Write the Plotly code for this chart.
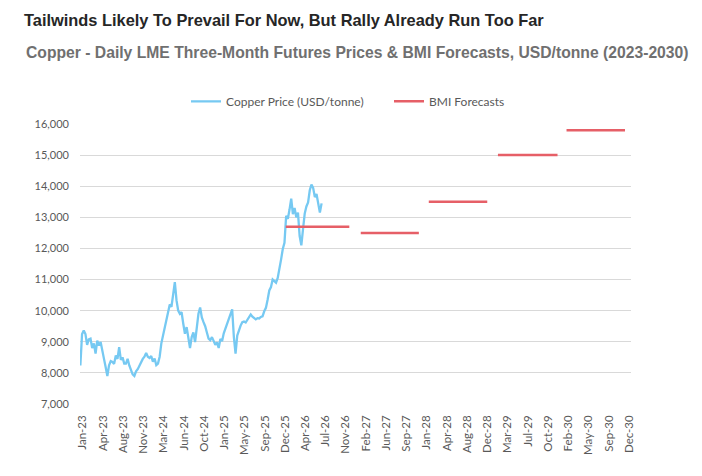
import pandas as pd
import plotly.graph_objects as go

# copper 3M price, one reading every 9 days (USD/tonne)
copper_start = "2022-12-22"
copper_price = [
    8240, 9250, 9360, 9250, 8900, 9080, 9100, 8800, 8950, 8620,
    9040, 8880, 8990, 8660, 8450, 8180, 7900, 8240, 8380, 8350,
    8290, 8560, 8450, 8830, 8420, 8500, 8300, 8300, 8450, 8240,
    8120, 7950, 7900, 8050, 8120, 8250, 8370, 8450, 8520, 8640,
    8520, 8480, 8540, 8360, 8460, 8250, 8300, 8520, 8950, 9250,
    9450, 9700, 9980, 10200, 10120, 10600, 10920, 10330, 10000, 9900,
    9950, 9580, 9260, 9470, 9100, 8800, 9150, 9300, 8990, 9450,
    9900, 10100, 9780, 9630, 9500, 9300, 9100, 9050, 9150, 9030,
    8900, 8980, 8800, 9090, 9020, 9270, 9420, 9560, 9720, 9850,
    10040, 9150, 8620, 9200, 9400, 9520, 9630, 9650, 9620, 9720,
    9800, 9880, 9810, 9750, 9720, 9760, 9750, 9800, 9820, 9980,
    10090, 10350, 10650, 10760, 11000, 10950, 10900, 11050, 11300, 11650,
    11980, 12180, 13050, 12950, 13250, 13600, 13100, 13300, 13000, 13150,
    12400, 12100, 12620, 13120, 13350, 13480, 13870, 14050, 13950, 13650,
    13750, 13480, 13150, 13450,
]
copper_dates = pd.date_range(copper_start, periods=len(copper_price), freq="9D")

# BMI annual forecasts
forecast_start = ["2025-12-22", "2027-01-26", "2028-01-24", "2029-01-27", "2030-01-28"]
forecast_end = ["2026-11-26", "2027-12-02", "2028-12-01", "2029-12-11", "2030-12-06"]
forecast_value = [12700, 12500, 13500, 15000, 15800]

tick_labels = [
    "Jan-23", "Apr-23", "Aug-23", "Nov-23", "Mar-24", "Jun-24", "Oct-24",
    "Jan-25", "May-25", "Sep-25", "Dec-25", "Apr-26", "Jul-26", "Nov-26",
    "Feb-27", "Jun-27", "Sep-27", "Jan-28", "Apr-28", "Aug-28", "Dec-28",
    "Mar-29", "Jul-29", "Oct-29", "Feb-30", "May-30", "Sep-30", "Dec-30",
]
tick_vals = pd.date_range("2023-01-03", periods=len(tick_labels), freq="108D")

fx, fy = [], []
for s, e, v in zip(forecast_start, forecast_end, forecast_value):
    fx += [s, e, None]
    fy += [v, v, None]

fig = go.Figure()
fig.add_trace(go.Scatter(
    x=copper_dates, y=copper_price, mode="lines",
    name="Copper Price (USD/tonne)",
    line=dict(color="#76C9F2", width=2.3),
))
fig.add_trace(go.Scatter(
    x=fx, y=fy, mode="lines", name="BMI Forecasts",
    line=dict(color="#E65F67", width=2.5),
    connectgaps=False,
))

grey = "#595959"
# the page body adds an 8px offset, so the margins are shifted by 8px
fig.update_layout(
    width=702, height=476,
    paper_bgcolor="white", plot_bgcolor="white",
    margin=dict(l=72, r=79, t=116, b=80),
    font=dict(family="Lato, Open Sans, sans-serif", size=11, color=grey),
    title=dict(
        text="<b>Tailwinds Likely To Prevail For Now, But Rally Already Run Too Far</b>",
        x=16 / 702, xanchor="left", xref="container",
        y=1 - 12 / 476, yanchor="middle", yref="container",
        font=dict(family="Liberation Sans, Arial, sans-serif", size=16.4, color="#262626"),
    ),
    annotations=[dict(
        text="<b>Copper - Daily LME Three-Month Futures Prices & BMI Forecasts, USD/tonne (2023-2030)</b>",
        xref="paper", yref="paper", x=(24 - 80) / 551, y=(403.5 - 52) / 279.8,
        xanchor="left", yanchor="middle", showarrow=False,
        font=dict(family="Liberation Sans, Arial, sans-serif", size=15.7, color="#707070"),
    )],
    legend=dict(
        orientation="h", x=(186 - 80) / 551, xanchor="left",
        y=(403.5 - 101) / 279.8, yanchor="middle",
        font=dict(size=12, color=grey), bgcolor="rgba(0,0,0,0)",
        entrywidth=158,
    ),
    showlegend=True,
)
fig.update_xaxes(
    type="date", range=["2022-12-20", "2031-01-07"],
    tickvals=tick_vals, ticktext=tick_labels, tickangle=-90,
    showgrid=False, zeroline=False, showline=False, ticks="",
    ticklabelstandoff=8,
    tickfont=dict(size=11.5, color=grey),
)
fig.update_yaxes(
    range=[7000, 16000], dtick=1000, tickformat=",",
    showgrid=True, gridcolor="#D9D9D9", gridwidth=1,
    zeroline=False, showline=False, ticks="",
    ticklabelstandoff=10,
    tickfont=dict(size=11, color=grey),
)

fig.write_html("out.html")
